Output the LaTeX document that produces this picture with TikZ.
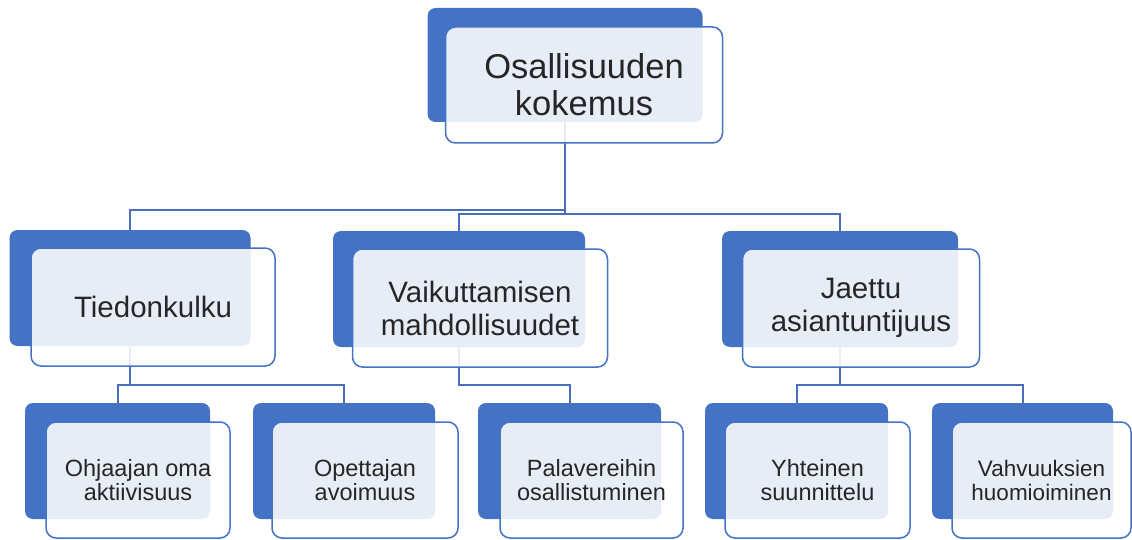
\documentclass[tikz,border=0pt]{standalone}
\usepackage{fontspec}
\setmainfont{Liberation Sans}
\usepackage{xcolor}
\usepackage{tikz}
\usetikzlibrary{calc}
\definecolor{mainc}{HTML}{4472C4}
\definecolor{linec}{HTML}{4A6EBE}
\definecolor{txtc}{HTML}{262626}
\tikzset{
  backbox/.style={fill=mainc,rounded corners=8pt,inner sep=0pt,minimum height=116pt},
  frontbox/.style={draw=mainc,line width=1.5pt,fill=white,fill opacity=0.875,text opacity=1,
    rounded corners=10pt,inner sep=0pt,align=center,text=txtc},
  conn/.style={linec,line width=2pt},
  lvla/.style={font=\fontsize{34.5pt}{37pt}\selectfont},
  lvlb/.style={font=\fontsize{29.5pt}{33pt}\selectfont},
  lvlc/.style={font=\fontsize{23.5pt}{24pt}\selectfont}
}
\begin{document}
\begin{tikzpicture}[x=1pt,y=-1pt]
\useasboundingbox (0,0) rectangle (1132,540);
% back boxes
\node[backbox,minimum width=275pt,minimum height=114pt] (ob) at (565,65) {};
\node[backbox,minimum width=241pt] (tb) at (130,288) {};
\node[backbox,minimum width=252pt] (vb) at (459,289) {};
\node[backbox,minimum width=236pt] (jb) at (840,289) {};
\node[backbox,minimum width=185pt] (ohb) at (117.5,461) {};
\node[backbox,minimum width=182pt] (opb) at (344,461) {};
\node[backbox,minimum width=183pt] (pab) at (569.5,461) {};
\node[backbox,minimum width=183pt] (yhb) at (796.5,461) {};
\node[backbox,minimum width=181pt] (vhb) at (1022.5,461) {};
% connectors
\draw[conn] (ob.south) -- ++(0,88) -| (tb.north);
\draw[conn] (ob.south) -- ++(0,92) -| (vb.north);
\draw[conn] (ob.south) -- ++(0,92) -| (jb.north);
\draw[conn] (tb.south) -- ++(0,39) -| (ohb.north);
\draw[conn] (tb.south) -- ++(0,39) -| (opb.north);
\draw[conn] (vb.south) -- ++(0,38) -| (pab.north);
\draw[conn] (jb.south) -- ++(0,38) -| (yhb.north);
\draw[conn] (jb.south) -- ++(0,38) -| (vhb.north);
% front boxes
\node[frontbox,lvla,minimum width=277pt,minimum height=116pt] (of) at (584,85) {Osallisuuden\\kokemus};
\node[frontbox,lvlb,minimum width=244pt,minimum height=118pt] (tf) at (153,307) {Tiedonkulku};
\node[frontbox,lvlb,minimum width=255pt,minimum height=118pt] (vf) at (480,308) {Vaikuttamisen\\mahdollisuudet};
\node[frontbox,lvlb,minimum width=237pt,minimum height=118pt] (jf) at (861,308) {Jaettu\\asiantuntijuus};
\node[frontbox,lvlc,minimum width=184pt,minimum height=116pt] (ohf) at (138,480) {Ohjaajan oma\\aktiivisuus};
\node[frontbox,lvlc,minimum width=186pt,minimum height=116pt] (opf) at (365,480) {Opettajan\\avoimuus};
\node[frontbox,lvlc,minimum width=183pt,minimum height=116pt] (paf) at (591.5,480) {Palavereihin\\osallistuminen};
\node[frontbox,lvlc,minimum width=185pt,minimum height=116pt] (yhf) at (817.5,480) {Yhteinen\\suunnittelu};
\node[frontbox,lvlc,minimum width=179pt,minimum height=116pt,font=\fontsize{22.5pt}{24pt}\selectfont] (vhf) at (1041.5,480) {Vahvuuksien\\huomioiminen};
\end{tikzpicture}
\end{document}
